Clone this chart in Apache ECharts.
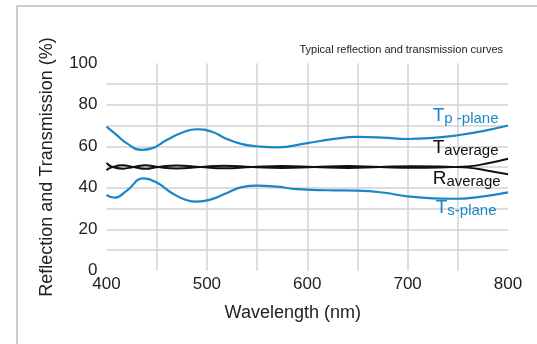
<!DOCTYPE html>
<html>
<head>
<meta charset="utf-8">
<script src="https://cdn.jsdelivr.net/npm/echarts@6/dist/echarts.min.js"></script>
<style>
html,body{margin:0;padding:0;background:#fff;}
#chart{width:537px;height:344px;}
</style>
</head>
<body>
<div id="chart"></div>
<script>
// ---- data ----
const xTicks = [400, 500, 600, 700, 800];
const yTicks = [0, 20, 40, 60, 80, 100];

const tpX = [400, 410, 420, 435, 445, 460, 475, 490, 505, 520, 535, 550, 570, 600, 625, 650, 675, 700, 725, 750, 775, 800];
const tpY = [69.5, 65.5, 61.5, 58.3, 59, 63, 66.5, 68.2, 67, 63.5, 61, 60, 59.5, 61.5, 63.4, 64.5, 64.2, 63.5, 64, 65.3, 67.3, 70];

const tsX = [400, 408, 420, 437, 450, 465, 480, 490, 505, 520, 535, 550, 570, 590, 620, 650, 675, 700, 725, 745, 770, 800];
const tsY = [36.5, 35.2, 38.5, 44.5, 42.5, 37.5, 34, 33.3, 34.5, 37.5, 40.3, 41, 40.5, 39.3, 38.8, 38.6, 37.7, 35.8, 34.9, 34.7, 35.5, 37.8];

const taX = [400, 405, 416, 427, 439, 451, 470, 494, 517, 545, 575, 607, 640, 672, 705, 745, 760, 780, 800];
const taY = [52, 50.2, 49.2, 50, 50.9, 50, 49.3, 50, 50.6, 50, 49.5, 50, 50.5, 50, 49.6, 50, 50.3, 51.8, 54];

const raX = [400, 405, 416, 427, 439, 451, 470, 494, 517, 545, 575, 607, 640, 672, 705, 745, 760, 780, 800];
const raY = [48.5, 49.8, 50.8, 50, 49.1, 50, 50.7, 50, 49.4, 50, 50.5, 50, 49.5, 50, 50.4, 50, 49.7, 48.2, 46.5];

// label anchor points (data coordinates)
const tpLabelAt = [725, 79.3];
const taLabelAt = [725, 64];
const raLabelAt = [725, 49];
const tsLabelAt = [728, 35];

const BLUE = '#1a86c7';
const BLACK = '#111111';
const FONT = '"Liberation Sans", Arial, sans-serif';

function pairs(xs, ys) { return xs.map((x, i) => [x, ys[i]]); }

function labelPoint(at, big, sub, color) {
  return {
    symbolSize: 0,
    silent: true,
    data: [{ coord: at }],
    label: {
      show: true,
      position: [0, 0],
      formatter: '{T|' + big + '}{s|' + sub + '}',
      rich: {
        T: { fontSize: 19, lineHeight: 20, color: color, fontFamily: FONT, verticalAlign: 'top' },
        s: { fontSize: 15, lineHeight: 20, color: color, fontFamily: FONT, verticalAlign: 'bottom', padding: [6, 0, 0, 0] }
      }
    }
  };
}

const chart = echarts.init(document.getElementById('chart'), null, { renderer: 'canvas' });

chart.setOption({
  backgroundColor: '#ffffff',
  animation: false,
  title: {
    text: 'Typical reflection and transmission curves',
    right: 29,
    top: 39,
    textStyle: { fontSize: 11, fontWeight: 'normal', color: '#222', fontFamily: FONT }
  },
  graphic: [{
    type: 'rect',
    shape: { x: 17, y: 6, width: 620, height: 420 },
    style: { fill: 'none', stroke: '#cccccc', lineWidth: 2 },
    silent: true
  }],
  grid: { left: 106.5, right: 29, top: 63.25, bottom: 73.25, containLabel: false, outerBoundsMode: 'none' },
  xAxis: {
    type: 'value',
    min: 400, max: 800, interval: 50,
    name: 'Wavelength (nm)',
    nameLocation: 'middle',
    nameGap: 33,
    nameMoveOverlap: false,
    nameTextStyle: { fontSize: 18, color: '#222', fontFamily: FONT, padding: [0, 29, 0, 0] },
    axisLine: { show: false },
    axisTick: { show: false },
    axisLabel: {
      margin: 5, fontSize: 17, color: '#222', fontFamily: FONT,
      formatter: v => (xTicks.indexOf(v) >= 0 ? String(v) : '')
    },
    splitLine: { show: true, showMinLine: false, showMaxLine: false, lineStyle: { color: '#d2d2d2', width: 1.5 } }
  },
  yAxis: {
    type: 'value',
    min: 0, max: 100, interval: 10,
    name: 'Reflection and Transmission (%)',
    nameLocation: 'middle',
    nameGap: 50,
    nameMoveOverlap: false,
    nameTextStyle: { fontSize: 18, color: '#222', fontFamily: FONT },
    axisLine: { show: false },
    axisTick: { show: false },
    axisLabel: {
      margin: 9, fontSize: 17, color: '#222', fontFamily: FONT,
      formatter: v => (yTicks.indexOf(v) >= 0 ? String(v) : '')
    },
    splitLine: { show: true, showMinLine: false, showMaxLine: false, lineStyle: { color: '#d2d2d2', width: 1.5 } }
  },
  series: [
    {
      name: 'Tp-plane', type: 'line', smooth: true, showSymbol: false, symbol: 'none',
      data: pairs(tpX, tpY), lineStyle: { color: BLUE, width: 2.2 },
      markPoint: labelPoint(tpLabelAt, 'T', 'p -plane', BLUE)
    },
    {
      name: 'Ts-plane', type: 'line', smooth: true, showSymbol: false, symbol: 'none',
      data: pairs(tsX, tsY), lineStyle: { color: BLUE, width: 2.2 },
      markPoint: labelPoint(tsLabelAt, 'T', 's-plane', BLUE)
    },
    {
      name: 'Taverage', type: 'line', smooth: true, showSymbol: false, symbol: 'none',
      data: pairs(taX, taY), lineStyle: { color: BLACK, width: 2 },
      markPoint: labelPoint(taLabelAt, 'T', 'average', BLACK)
    },
    {
      name: 'Raverage', type: 'line', smooth: true, showSymbol: false, symbol: 'none',
      data: pairs(raX, raY), lineStyle: { color: BLACK, width: 2 },
      markPoint: labelPoint(raLabelAt, 'R', 'average', BLACK)
    }
  ]
});
</script>
</body>
</html>
